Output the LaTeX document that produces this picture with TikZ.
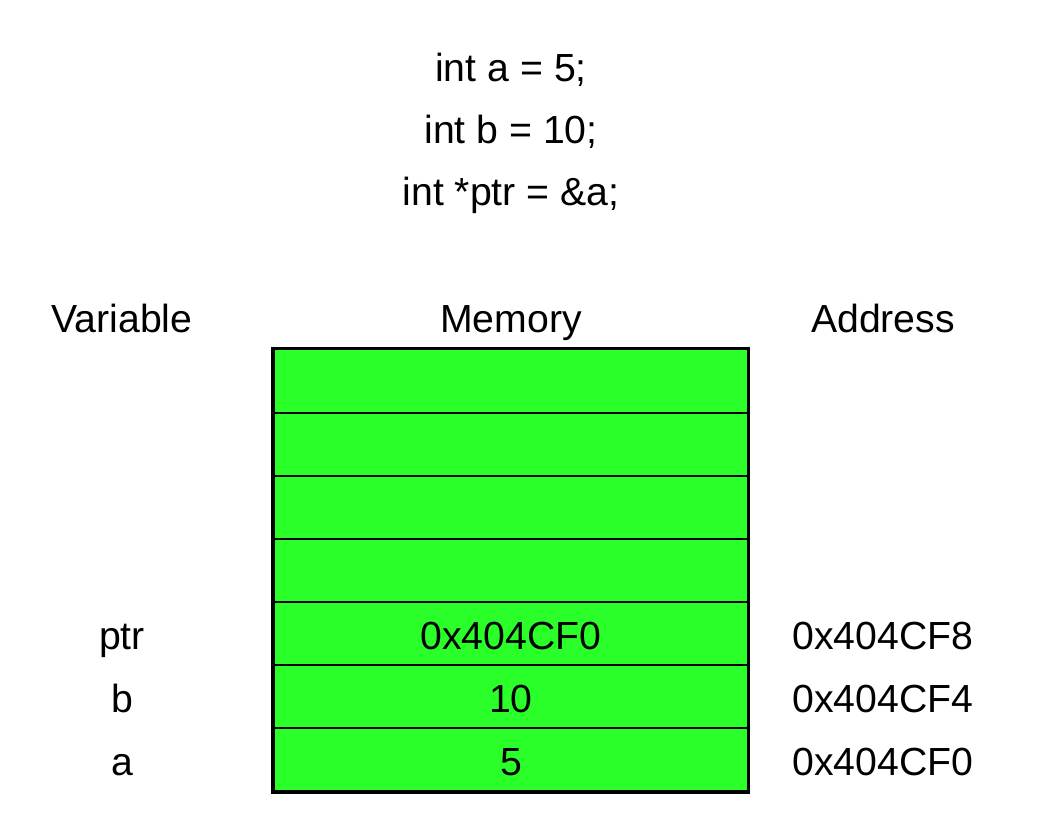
\documentclass[tikz,border=0pt]{standalone}
\usepackage{fontspec}
\setmainfont{Liberation Sans}
\definecolor{memgreen}{RGB}{42,255,42}
\begin{document}
\begin{tikzpicture}[x=0.5pt,y=-0.5pt,
  txt/.style={inner sep=0pt,anchor=base,font=\fontsize{19.6}{23}\selectfont},
  cell/.style={draw=black,line width=1pt,fill=memgreen,inner sep=0pt,
    minimum width=237.25pt,minimum height=31.55pt},
  outer/.style={draw=black,line width=1.4pt}]
\useasboundingbox (0,0) rectangle (1050,834);
% code lines
\node[txt] (l1) at (511,82) {int a = 5;};
\node[txt] (l2) at (511,144) {int b = 10;};
\node[txt] (l3) at (511,206) {int *ptr = \&a;};
% headers
\node[txt] (hv) at (122,333) {Variable};
\node[txt] (hm) at (511,333) {Memory};
\node[txt] (ha) at (883,333) {Address};
% memory cells
\foreach \i in {1,...,7}{
  \pgfmathsetmacro{\yy}{349.5+63.1*(\i-0.5)}
  \node[cell] (c\i) at (510.75,\yy) {};
}
\node[txt] (v5) at (511,649) {0x404CF0};
\node[txt] (v6) at (511,712) {10};
\node[txt] (v7) at (511,775) {5};
\draw[outer] (c1.north west) rectangle (c7.south east);
% variable names
\node[txt] (nptr) at (122,649) {ptr};
\node[txt] (nb) at (122,712) {b};
\node[txt] (na) at (122,775) {a};
% addresses
\node[txt] (a5) at (883,649) {0x404CF8};
\node[txt] (a6) at (883,712) {0x404CF4};
\node[txt] (a7) at (883,775) {0x404CF0};
\end{tikzpicture}
\end{document}
